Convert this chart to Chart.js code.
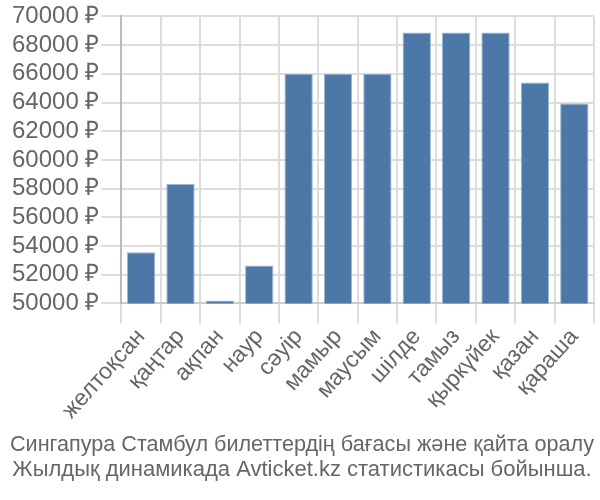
<!DOCTYPE html>
<html>
<head>
<meta charset="utf-8">
<script src="https://cdn.jsdelivr.net/npm/chart.js@4/dist/chart.umd.min.js"></script>
<style>
    html, body { margin: 0; padding: 0; background: #fff; }
    #wrap { width: 600px; height: 500px; }
</style>
</head>
<body>
<div id="wrap"><canvas id="chart" width="600" height="500"></canvas></div>
<script>
const months = ['желтоқсан', 'қаңтар', 'ақпан', 'наур', 'сәуір', 'мамыр', 'маусым', 'шілде', 'тамыз', 'қыркүйек', 'қазан', 'қараша'];
const prices = [53570, 58320, 50200, 52640, 66000, 66000, 66000, 68880, 68880, 68880, 65400, 63930];
const yMin = 50000;
const yMax = 70000;
const yStep = 2000;
const titleLines = [
    'Сингапура Стамбул билеттердің бағасы және қайта оралу',
    'Жылдық динамикада Avticket.kz статистикасы бойынша.',
];

const textColor = '#666666';
const gridColor = '#dddddd';
const fontFamily = '"Liberation Sans", Arial, sans-serif';

new Chart(document.getElementById('chart'), {
    type: 'bar',
    data: {
        labels: months,
        datasets: [{
            data: prices,
            backgroundColor: '#4c78a8',
            borderColor: '#9fb6d2',
            borderWidth: 1,
        }],
    },
    options: {
        responsive: false,
        animation: false,
        layout: { padding: { left: 10, right: 6, top: 2, bottom: 17 } },
        plugins: {
            legend: { display: false },
            tooltip: { enabled: false },
            title: {
                display: true,
                position: 'bottom',
                text: titleLines,
                color: textColor,
                font: { family: fontFamily, size: 22, weight: 'normal', lineHeight: 1.15 },
                padding: { top: 8, bottom: 0 },
            },
        },
        scales: {
            x: {
                grid: { color: gridColor, lineWidth: 2, tickLength: 20, offset: true },
                border: { color: '#cccccc', width: 2 },
                ticks: {
                    color: textColor,
                    font: { family: fontFamily, size: 23 },
                    maxRotation: 48,
                    minRotation: 48,
                    autoSkip: false,
                    padding: 0,
                },
            },
            y: {
                min: yMin,
                max: yMax,
                grid: { color: gridColor, lineWidth: 2, tickLength: 20 },
                border: { color: '#bbbbbb', width: 2 },
                ticks: {
                    stepSize: yStep,
                    autoSkip: false,
                    color: textColor,
                    padding: 2,
                    font: { family: fontFamily, size: 24 },
                    callback: (v) => v + ' ₽',
                },
            },
        },
    },
});
</script>
</body>
</html>
